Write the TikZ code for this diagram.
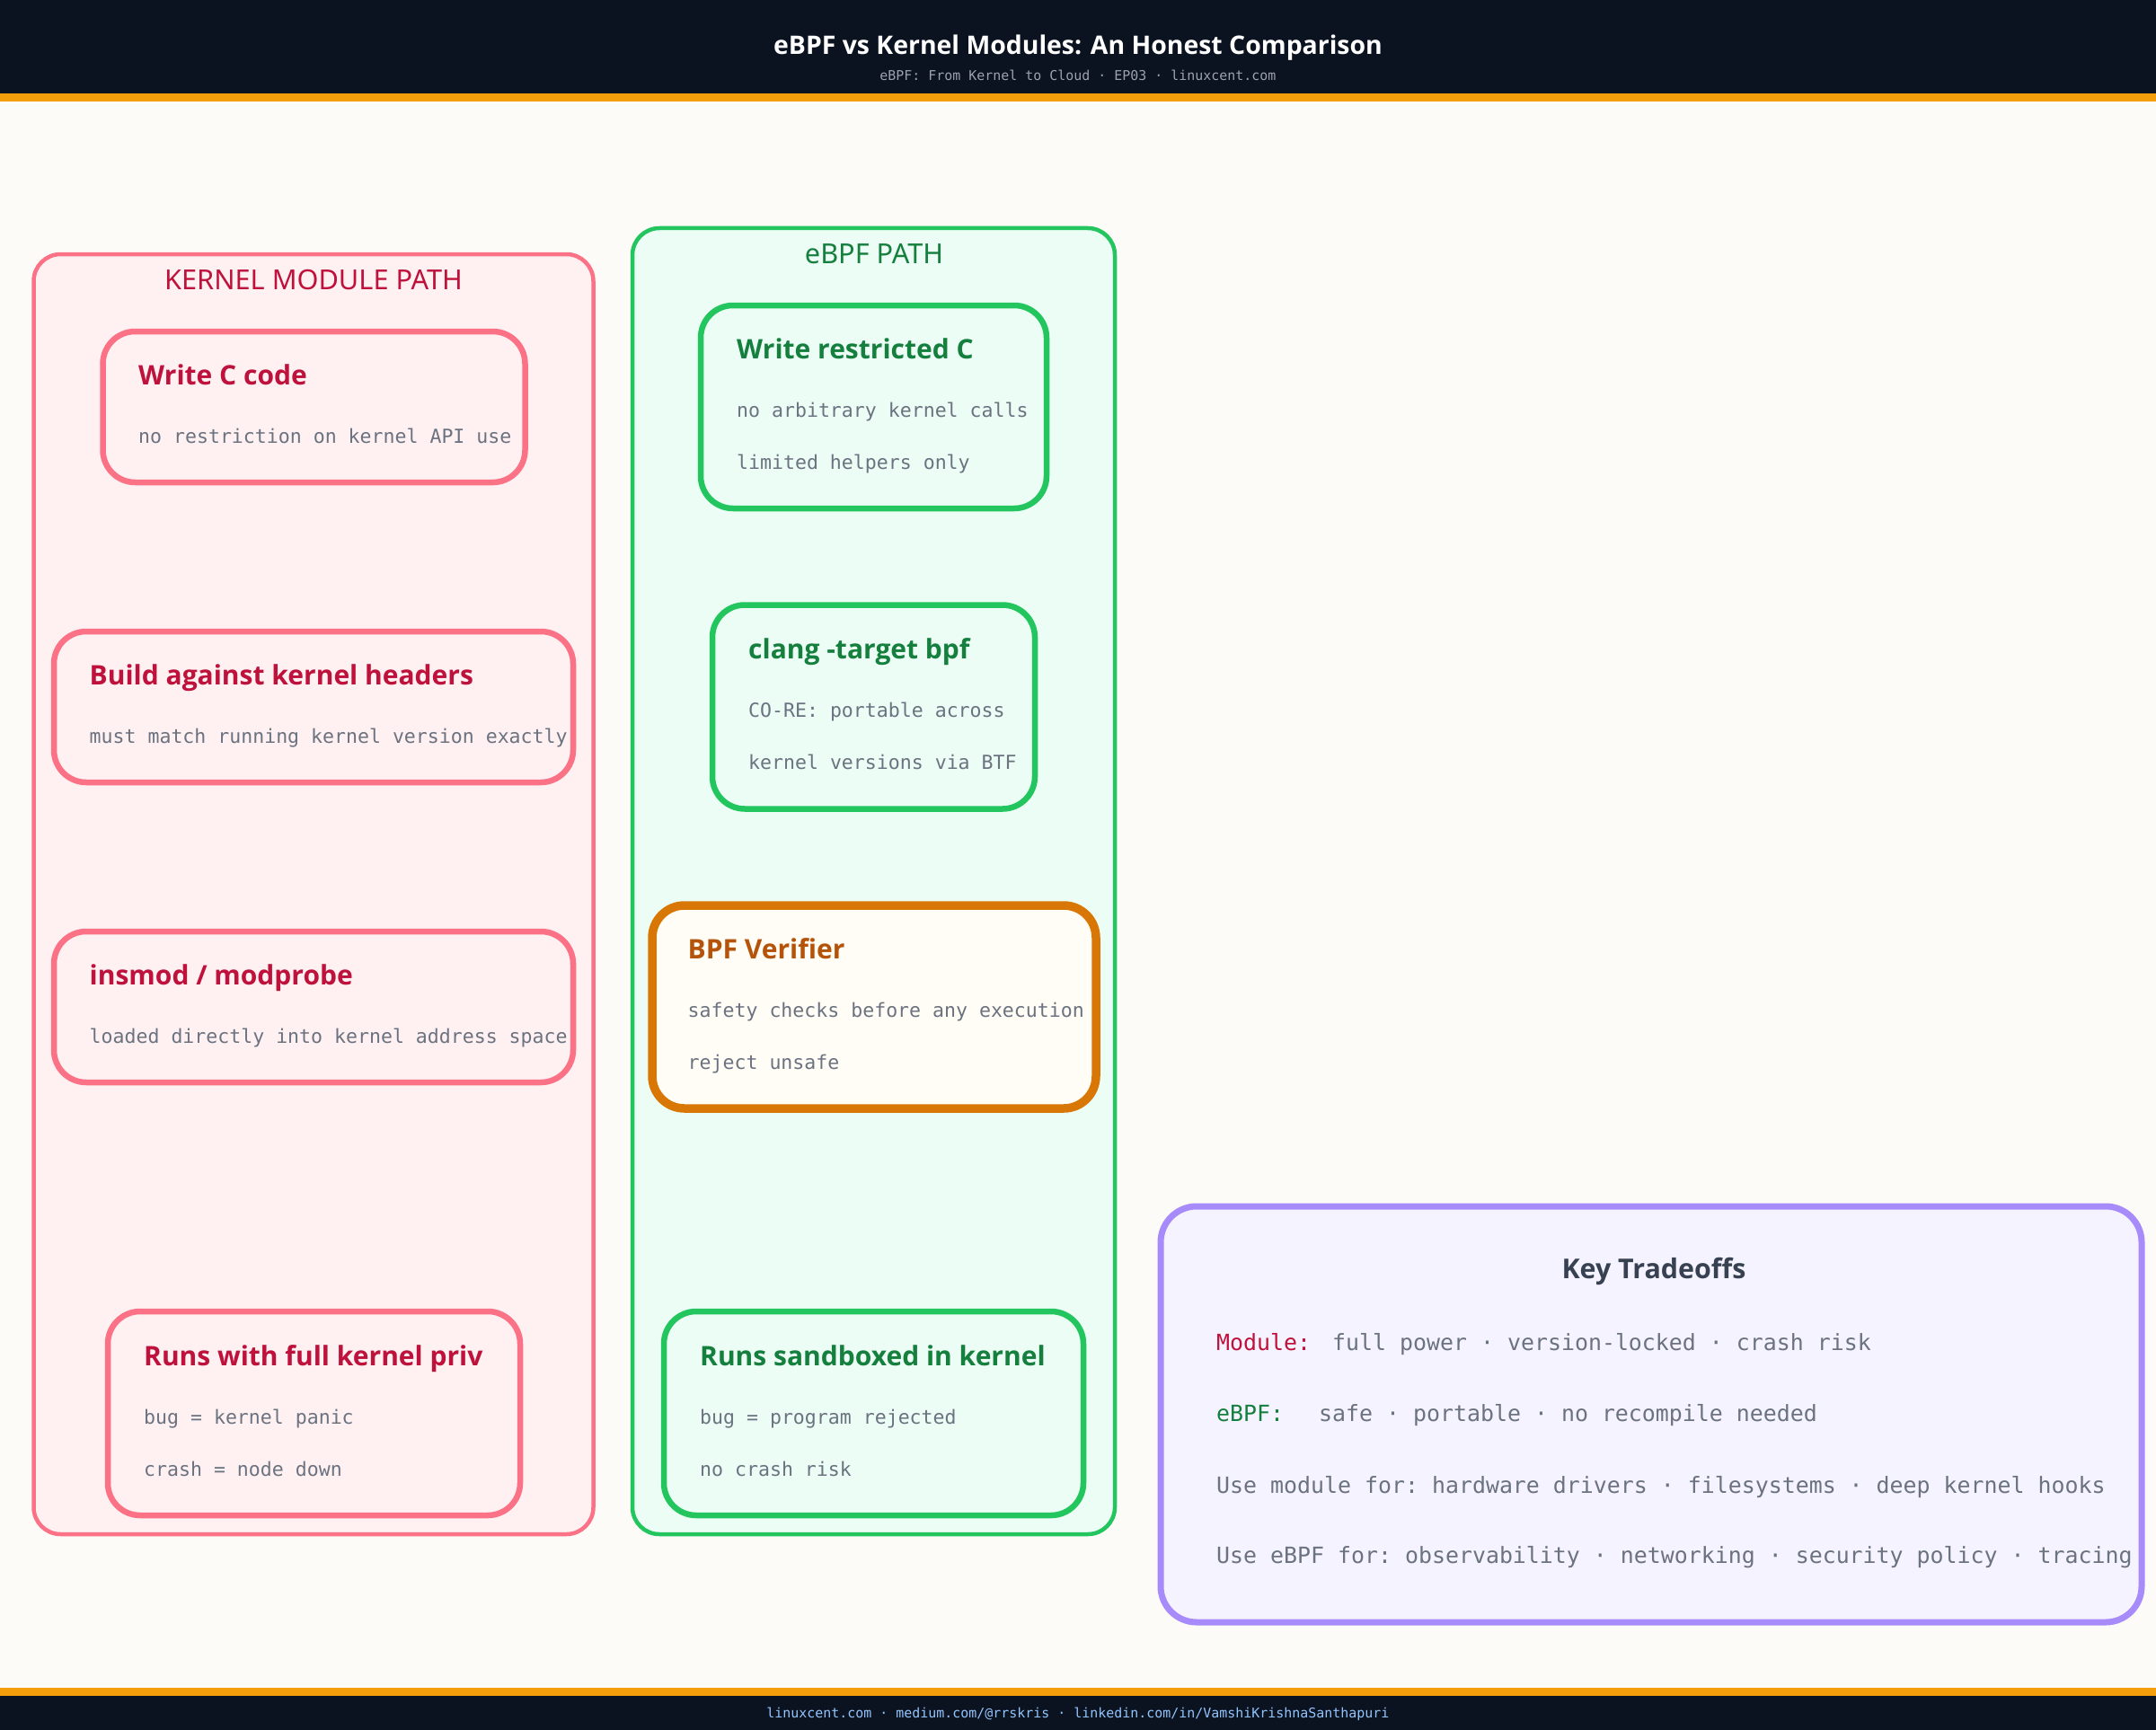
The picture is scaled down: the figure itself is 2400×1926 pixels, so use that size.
\documentclass[tikz,border=0pt]{standalone}
\usepackage{fontspec}
\setmainfont{Noto Sans}
\newfontfamily\headfont{Open Sans}
\setmonofont{DejaVu Sans Mono}
\definecolor{pagebg}{HTML}{FDFBF7}
\definecolor{barbg}{HTML}{0B1220}
\definecolor{baror}{HTML}{F59E0B}
\definecolor{kmline}{HTML}{FB7185}
\definecolor{kmfill}{HTML}{FFF1F2}
\definecolor{kmtext}{HTML}{BE123C}
\definecolor{bpfline}{HTML}{22C55E}
\definecolor{bpffill}{HTML}{ECFDF5}
\definecolor{bpftext}{HTML}{15803D}
\definecolor{verline}{HTML}{D97706}
\definecolor{verfill}{HTML}{FFFDF5}
\definecolor{vertext}{HTML}{B45309}
\definecolor{keyline}{HTML}{A78BFA}
\definecolor{keyfill}{HTML}{F5F3FF}
\definecolor{keytext}{HTML}{374151}
\definecolor{subtext}{HTML}{6B7280}
\definecolor{dimtext}{HTML}{9CA3AF}
\definecolor{linktext}{HTML}{93C5FD}
\tikzset{
  panel/.style={draw,line width=4.5pt,rounded corners=30pt,inner sep=0pt},
  kmbox/.style={draw=kmline,fill=kmfill,line width=6.5pt,rounded corners=36pt,inner sep=0pt},
  bpfbox/.style={draw=bpfline,fill=bpffill,line width=6.5pt,rounded corners=36pt,inner sep=0pt},
  label/.style={inner sep=0pt,anchor=base west},
  head/.style={label,font=\headfont\fontsize{30}{36}\selectfont\bfseries},
  sub/.style={label,text=subtext,font=\ttfamily\fontsize{21.55}{26}\selectfont},
  big/.style={label,text=subtext,font=\ttfamily\fontsize{24.9}{30}\selectfont},
  pathname/.style={inner sep=0pt,anchor=base,font=\fontsize{30.7}{36}\selectfont},
  tiny/.style={inner sep=0pt,anchor=base,font=\ttfamily\fontsize{14.95}{18}\selectfont}
}
\begin{document}
\begin{tikzpicture}[x=1pt,y=-1pt]
        \useasboundingbox (0,0) rectangle (2400,1926);
        \fill[pagebg] (0,0) rectangle (2400,1926);
        % bars
        \fill[barbg] (0,0) rectangle (2400,104);
        \fill[baror] (0,104) rectangle (2400,113);
        \fill[baror] (0,1879) rectangle (2400,1888);
        \fill[barbg] (0,1888) rectangle (2400,1926);
        \node[inner sep=0pt,anchor=base,text=white,font=\headfont\fontsize{28.4}{34}\selectfont\bfseries] (maintitle) at (1200,61) {eBPF vs Kernel Modules: An Honest Comparison};
        \node[tiny,text=dimtext] (subtitle) at (1200,89.5) {eBPF: From Kernel to Cloud · EP03 · linuxcent.com};
        \node[tiny,text=linktext] (links) at (1200,1912) {linuxcent.com · medium.com/@rrskris · linkedin.com/in/VamshiKrishnaSanthapuri};
        % kernel module path
        \node[panel,draw=kmline,fill=kmfill,minimum width=623pt,minimum height=1425pt] (kmpanel) at (349,995.5) {};
        \node[pathname,text=kmtext] (kmname) at (349,322) {KERNEL MODULE PATH};
        \node[kmbox,minimum width=470pt,minimum height=168pt] (kma) at (349.5,453) {};
        \node[head,text=kmtext] (kmat) at (154,428) {Write C code};
        \node[sub] (kmas) at (154,493) {no restriction on kernel API use};
        \node[kmbox,minimum width=578pt,minimum height=168pt] (kmb) at (349,787) {};
        \node[head,text=kmtext] (kmbt) at (99.5,762) {Build against kernel headers};
        \node[sub] (kmbs) at (99.5,827) {must match running kernel version exactly};
        \node[kmbox,minimum width=578pt,minimum height=168pt] (kmc) at (349,1121) {};
        \node[head,text=kmtext] (kmct) at (99.5,1096) {insmod / modprobe};
        \node[sub] (kmcs) at (99.5,1161) {loaded directly into kernel address space};
        \node[kmbox,minimum width=459pt,minimum height=227pt] (kmd) at (349.5,1573.5) {};
        \node[head,text=kmtext] (kmdt) at (160,1520) {Runs with full kernel priv};
        \node[sub] (kmds) at (160,1585.5) {bug = kernel panic};
        \node[sub] (kmdr) at (160,1643.5) {crash = node down};
        % ebpf path
        \node[panel,draw=bpfline,fill=bpffill,minimum width=537pt,minimum height=1454pt] (bpfpanel) at (972.5,981) {};
        \node[pathname,text=bpftext] (bpfname) at (973,293) {eBPF PATH};
        \node[bpfbox,minimum width=385pt,minimum height=226pt] (bpfa) at (972.5,453) {};
        \node[head,text=bpftext] (bpfat) at (820,399) {Write restricted C};
        \node[sub] (bpfas) at (820,464) {no arbitrary kernel calls};
        \node[sub] (bpfar) at (820,522) {limited helpers only};
        \node[bpfbox,minimum width=359pt,minimum height=227pt] (bpfb) at (972.5,787) {};
        \node[head,text=bpftext] (bpfbt) at (833,733) {clang -target bpf};
        \node[sub] (bpfbs) at (833,798) {CO-RE: portable across};
        \node[sub] (bpfbr) at (833,856) {kernel versions via BTF};
        \node[draw=verline,fill=verfill,line width=9.5pt,rounded corners=36pt,inner sep=0pt,minimum width=494pt,minimum height=226pt] (ver) at (973,1121) {};
        \node[head,text=vertext] (vert) at (765.5,1067) {BPF Verifier};
        \node[sub] (vers) at (765.5,1132) {safety checks before any execution};
        \node[sub] (verr) at (765.5,1190) {reject unsafe};
        \node[bpfbox,minimum width=467pt,minimum height=227pt] (bpfd) at (972.5,1573.5) {};
        \node[head,text=bpftext] (bpfdt) at (779,1520) {Runs sandboxed in kernel};
        \node[sub] (bpfds) at (779,1585.5) {bug = program rejected};
        \node[sub] (bpfdr) at (779,1643.5) {no crash risk};
        % tradeoffs
        \node[draw=keyline,fill=keyfill,line width=7pt,rounded corners=40pt,inner sep=0pt,minimum width=1092pt,minimum height=463pt] (key) at (1838,1574.5) {};
        \node[inner sep=0pt,anchor=base,text=keytext,font=\headfont\fontsize{30.4}{36}\selectfont\bfseries] (keyname) at (1841,1423) {Key Tradeoffs};
        \node[big,text=kmtext] (keyma) at (1354,1503) {Module:};
        \node[big] (keymb) at (1483,1503) {full power · version-locked · crash risk};
        \node[big,text=bpftext] (keyea) at (1354,1582) {eBPF:};
        \node[big] (keyeb) at (1468,1582) {safe · portable · no recompile needed};
        \node[big] (keyuse) at (1354,1662) {Use module for: hardware drivers · filesystems · deep kernel hooks};
        \node[big] (keyalt) at (1354,1740) {Use eBPF for: observability · networking · security policy · tracing};
    \end{tikzpicture}
\end{document}
